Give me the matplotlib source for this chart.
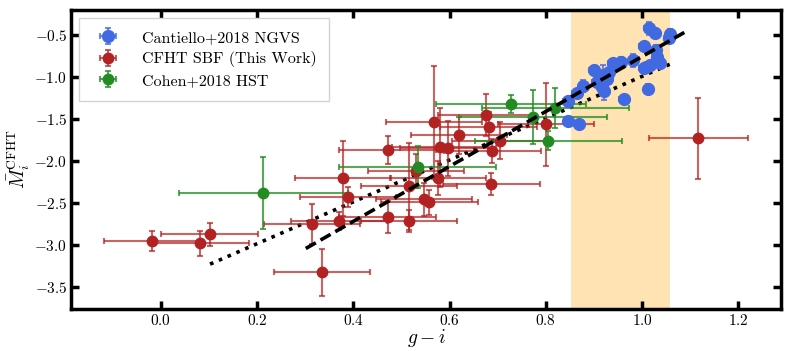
import matplotlib
matplotlib.use("Agg")
import matplotlib.pyplot as plt
import numpy as np

plt.rcParams['font.family'] = ['cmr10', 'DejaVu Serif']
plt.rcParams['mathtext.fontset'] = 'cm'
plt.rcParams['axes.formatter.use_mathtext'] = True
plt.rcParams['axes.unicode_minus'] = True

# Cantiello+2018 NGVS
ngvs_gi = [1.015, 1.026, 1.059, 1.055, 1.003, 1.028, 1.031, 0.982, 0.956, 0.940,
           0.900, 0.918, 0.932, 1.003, 1.017, 1.037, 1.008, 0.906, 0.927, 0.916,
           0.920, 0.878, 0.864, 0.845, 1.013, 0.963, 0.847, 0.868]
ngvs_M = [-0.420, -0.473, -0.480, -0.539, -0.631, -0.682, -0.758, -0.798, -0.815, -0.830,
          -0.917, -0.976, -0.937, -0.896, -0.857, -0.830, -0.877, -1.056, -1.027, -1.115,
          -1.167, -1.107, -1.194, -1.286, -1.135, -1.265, -1.520, -1.556]
ngvs_Merr = [0.08, 0.06, 0.05, 0.05, 0.05, 0.06, 0.05, 0.08, 0.05, 0.05,
             0.05, 0.12, 0.05, 0.05, 0.05, 0.05, 0.05, 0.06, 0.05, 0.05,
             0.10, 0.07, 0.05, 0.05, 0.05, 0.05, 0.05, 0.05]
ngvs_gierr = [0.01] * len(ngvs_gi)

# CFHT SBF (this work)
cfht_gi = [-0.019, 0.082, 0.101, 0.314, 0.370, 0.335, 0.379, 0.389, 0.471, 0.471,
           0.530, 0.516, 0.547, 0.558, 0.515, 0.568, 0.619, 0.580, 0.597, 0.576,
           0.676, 0.681, 0.705, 0.689, 0.687, 0.801, 1.117]
cfht_M = [-2.949, -2.980, -2.873, -2.750, -2.714, -3.325, -2.206, -2.425, -1.869, -2.663,
          -2.115, -2.298, -2.456, -2.492, -2.711, -1.539, -1.690, -1.837, -1.849, -2.199,
          -1.449, -1.592, -1.754, -1.881, -2.270, -1.563, -1.730]
cfht_Merr = [0.12, 0.15, 0.135, 0.24, 0.11, 0.285, 0.45, 0.12, 0.17, 0.19,
             0.20, 0.52, 0.20, 0.15, 0.13, 0.67, 0.22, 0.47, 0.33, 0.20,
             0.25, 0.18, 0.22, 0.14, 0.13, 0.49, 0.48]
cfht_gierr = [0.10] * 26 + [0.103]

# Cohen+2018 HST
hst_gi = [0.213, 0.534, 0.727, 0.774, 0.820, 0.805]
hst_M = [-2.377, -2.075, -1.321, -1.473, -1.365, -1.754]
hst_gierr = [0.175, 0.163, 0.156, 0.154, 0.153, 0.153]
hst_Merr = [0.43, 0.25, 0.11, 0.32, 0.24, 0.11]

# relations
dash_range = [0.301, 1.096]
dash_slope, dash_icpt = 3.27, -4.024
dot_range = [0.102, 1.06]
dot_slope, dot_icpt = 2.49, -3.480

band = [0.852, 1.058]

fig = plt.figure(figsize=(7.89, 3.51), dpi=100)
ax = fig.add_axes([0.0906, 0.1197, 0.8994, 0.8518])

ax.axvspan(band[0], band[1], color='orange', alpha=0.3, lw=0, zorder=0)

xd = np.array(dot_range)
ax.plot(xd, dot_slope * xd + dot_icpt, color='k', ls=':', lw=2.6, zorder=2)

kw = dict(fmt='o', elinewidth=1.5, capsize=2.5, capthick=1.5, zorder=3)
ax.errorbar(ngvs_gi, ngvs_M, xerr=ngvs_gierr, yerr=ngvs_Merr, color='royalblue',
            ecolor=(0.255, 0.41, 0.88, 0.75), ms=8.5, label='Cantiello+2018 NGVS', **kw)
ax.errorbar(cfht_gi, cfht_M, xerr=cfht_gierr, yerr=cfht_Merr, color='firebrick',
            ecolor=(0.698, 0.133, 0.133, 0.7), ms=7.5, label='CFHT SBF (This Work)', **kw)
ax.errorbar(hst_gi, hst_M, xerr=hst_gierr, yerr=hst_Merr, color='forestgreen',
            ecolor=(0.133, 0.545, 0.133, 0.75), ms=7.5, label='Cohen+2018 HST', **kw)

xa = np.array(dash_range)
ax.plot(xa, dash_slope * xa + dash_icpt, color='k', lw=2.6, dashes=(3.2, 1.5), zorder=4)

ax.set_xlim(-0.186, 1.289)
ax.set_ylim(-3.76, -0.20)
ax.set_xticks([0.0, 0.2, 0.4, 0.6, 0.8, 1.0, 1.2])
ax.set_yticks([-3.5, -3.0, -2.5, -2.0, -1.5, -1.0, -0.5])
ax.tick_params(direction='in', length=6, width=2.5, top=True, right=True, labelsize=11, pad=3)
for s in ax.spines.values():
    s.set_linewidth(2.5)

ax.set_xlabel(r'$g-i$', fontsize=14, labelpad=-1)
ax.set_ylabel(r'$\bar{M}_i^{\rm CFHT}$', fontsize=14, labelpad=2)

leg = ax.legend(loc='upper left', fontsize=11.5, fancybox=False, framealpha=1,
                edgecolor='lightgray', borderpad=0.8, handletextpad=1.1, labelspacing=0.4)
leg.get_frame().set_linewidth(1.0)

fig.savefig('out.png', dpi=100)
